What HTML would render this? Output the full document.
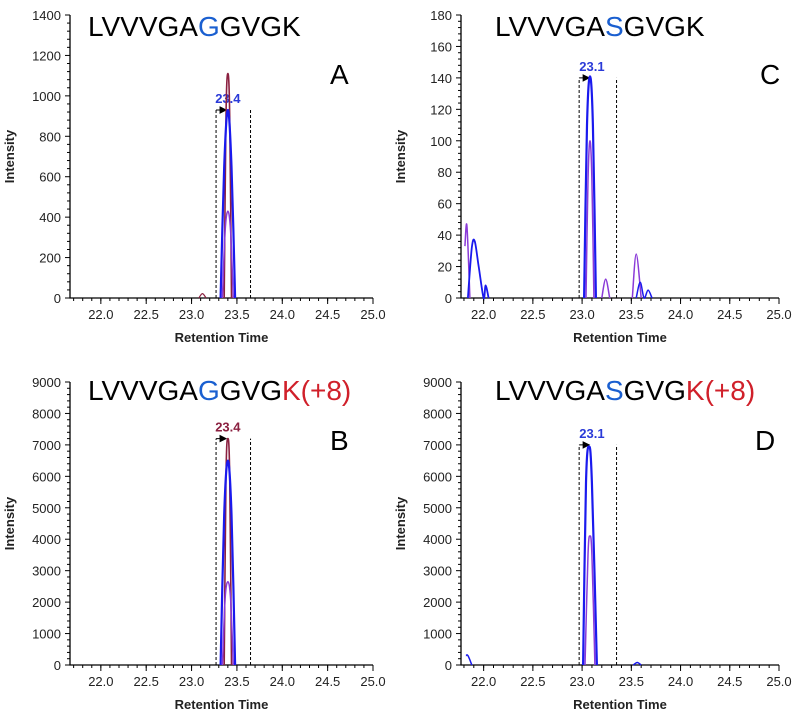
<!DOCTYPE html>
<html><head><meta charset="utf-8"><style>
body{margin:0;background:#fff;width:793px;height:711px;overflow:hidden}
svg{display:block}
.t{font-family:"Liberation Sans",sans-serif;font-size:13px;fill:#222}
.ti{font-family:"Liberation Sans",sans-serif;font-size:28px;fill:#000}
</style></head><body>
<svg id="c" width="793" height="711"></svg>
<script>
const xTicks=["22.0","22.5","23.0","23.5","24.0","24.5","25.0"];
const yTicksA=[0,200,400,600,800,1000,1200,1400];
const yTicksC=[0,20,40,60,80,100,120,140,160,180];
const yTicksB=[0,1000,2000,3000,4000,5000,6000,7000,8000,9000];
// traces: [time, intensity] points
const aBlue=[[23.32,0],[23.36,650],[23.40,930],[23.44,650],[23.48,0]];
const aPurple=[[23.34,0],[23.37,330],[23.40,430],[23.43,330],[23.46,0]];
const aMaroon=[[23.36,0],[23.38,900],[23.40,1110],[23.42,900],[23.44,0]];
const aSmall=[[23.08,0],[23.12,22],[23.16,0]];
const cBlue=[[23.02,0],[23.05,110],[23.08,141],[23.11,110],[23.14,0]];
const cPurple=[[23.04,0],[23.06,75],[23.08,100],[23.10,75],[23.12,0]];
const cBlueL=[[21.84,0],[21.88,32],[21.91,36],[21.95,20],[22.0,0],[22.02,8],[22.05,0]];
const cPurpleL=[[21.81,33],[21.83,46],[21.86,0]];
const cBumps=[[23.2,0],[23.24,12],[23.28,0]];
const cPurpleR=[[23.51,0],[23.55,28],[23.6,0]];
const cBlueR=[[23.55,0],[23.59,10],[23.63,0],[23.67,5],[23.71,0]];
const bBlue=[[23.32,0],[23.36,4800],[23.40,6500],[23.44,4800],[23.48,0]];
const bPurple=[[23.34,0],[23.37,2100],[23.40,2650],[23.43,2100],[23.46,0]];
const bMaroon=[[23.36,0],[23.38,6000],[23.40,7200],[23.42,6000],[23.44,0]];
const dBlue=[[23.01,0],[23.04,5800],[23.07,6950],[23.10,5800],[23.15,0]];
const dPurple=[[23.03,0],[23.06,3500],[23.08,4100],[23.10,3500],[23.13,0]];
const dBlueL=[[21.82,300],[21.84,300],[21.88,0]];
const dBlueR=[[23.52,0],[23.56,80],[23.6,0]];

const svg=document.getElementById('c');
const NS='http://www.w3.org/2000/svg';
function mk(tag,attrs,parent){const e=document.createElementNS(NS,tag);for(const k in attrs)e.setAttribute(k,attrs[k]);(parent||svg).appendChild(e);return e;}
function smooth(P){let d='M'+P[0][0].toFixed(1)+','+P[0][1].toFixed(1);
  for(let i=0;i<P.length-1;i++){const p0=P[i-1]||P[i],p1=P[i],p2=P[i+1],p3=P[i+2]||p2;
    const c1=[p1[0]+(p2[0]-p0[0])/6,p1[1]+(p2[1]-p0[1])/6],c2=[p2[0]-(p3[0]-p1[0])/6,p2[1]-(p3[1]-p1[1])/6];
    d+=`C${c1[0].toFixed(1)},${c1[1].toFixed(1)} ${c2[0].toFixed(1)},${c2[1].toFixed(1)} ${p2[0].toFixed(1)},${p2[1].toFixed(1)}`;}
  return d;}

function panel(p){
  const g=mk('g',{});
  
  
  const xs=v=>p.x0+(v-p.t0)/(p.t1-p.t0)*(p.x1-p.x0);
  const ys=v=>p.y0-v/p.ymax*(p.y0-p.y1);
  const ax=mk('path',{d:`M${p.x0},${p.y1}V${p.y0}H${p.x1}`,stroke:'#000',fill:'none','stroke-width':1.3},g);
  
  
  for(let t=21.7;t<=25.001;t+=0.1){const x=xs(t);if(x<p.x0)continue;mk('line',{x1:x,x2:x,y1:p.y0,y2:p.y0+3,stroke:'#000'},g);}
  xTicks.forEach(s=>{const x=xs(+s);mk('line',{x1:x,x2:x,y1:p.y0,y2:p.y0+6,stroke:'#000'},g);
    const tx=mk('text',{x:x,y:p.y0+21,'text-anchor':'middle',class:'t'},g);tx.textContent=s;
    
    });
  const n=p.yt.length-1;
  p.yt.forEach((v,i)=>{const y=ys(v);mk('line',{x1:p.x0-5,x2:p.x0,y1:y,y2:y,stroke:'#000'},g);
    if(i<n){for(let k=1;k<5;k++){const yy=ys(v+(p.yt[1]-p.yt[0])*k/5);mk('line',{x1:p.x0-3,x2:p.x0,y1:yy,y2:yy,stroke:'#000'},g);}}
    const tx=mk('text',{x:p.x0-9,y:y+5,'text-anchor':'end',class:'t'},g);tx.textContent=v;
    
    });
  const xt=mk('text',{x:(p.x0+p.x1)/2,y:p.y0+44,'text-anchor':'middle',class:'t','font-weight':'bold','font-size':'12'},g);
  xt.textContent='Retention Time';
  
  
  const yt=mk('text',{transform:`translate(${p.x0-56},${(p.y0+p.y1)/2}) rotate(-90)`,'text-anchor':'middle',class:'t','font-weight':'bold','font-size':'12'},g);
  yt.textContent='Intensity';
  
  
  p.bounds.forEach(b=>{const l=mk('line',{x1:xs(b),x2:xs(b),y1:p.y0,y2:ys(p.btop),stroke:'#000','stroke-dasharray':'3,2'},g);
    
    });
  const bx=xs(p.bounds[0]),by=ys(p.btop);
  mk('path',{d:`M${bx},${by}H${bx+10}M${bx+4},${by-3}L${bx+10},${by}L${bx+4},${by+3}Z`,stroke:'#000',fill:'#000'},g);
  const lb=mk('text',{x:xs(p.lx),y:by-7,'text-anchor':'middle',class:'t','font-size':'11','font-weight':'bold'},g);
  lb.textContent=p.label;lb.style.fill=p.lcol;
  
  
  p.traces.forEach(([pts,col,w])=>{
    const d=smooth(pts.map(q=>[xs(q[0]),ys(q[1])]));
    const pa=mk('path',{d:d,stroke:col,fill:'none','stroke-width':w,'stroke-linejoin':'round'},g);
    
    
  });
  const tt=mk('text',{x:p.tx,y:p.ty,class:'ti'},g);
  
  
  p.title.forEach(([s,c])=>{const ts=mk('tspan',{fill:c},tt);ts.textContent=s;});
  const L=mk('text',{x:p.Lx,y:p.Ly,class:'ti','font-size':'32'},g);L.textContent=p.id;
  
  
}
const M='#8b2040',B='#1a1aee',P='#8a3ad8';
panel({id:'A',x0:70,x1:373,y0:298,y1:15,t0:21.66,t1:25,ymax:1400,yt:yTicksA,bounds:[23.27,23.65],btop:930,lx:23.4,label:'23.4',lcol:'#2a3ad8',
  traces:[[aSmall,M,1.2],[aMaroon,M,1.6],[aBlue,B,2.2],[aPurple,P,1.5]],title:[['LVVVGA','#000'],['G','#1a5fd0'],['GVGK','#000']],tx:88,ty:36,Lx:330,Ly:84});
panel({id:'C',x0:461,x1:779,y0:298,y1:15,t0:21.77,t1:25,ymax:180,yt:yTicksC,bounds:[22.97,23.35],btop:140,lx:23.1,label:'23.1',lcol:'#2a3ad8',
  traces:[[cPurpleL,P,1.5],[cBlueL,B,1.8],[cBumps,P,1.5],[cPurpleR,P,1.5],[cBlueR,B,1.5],[cPurple,P,1.5],[cBlue,B,2.2]],title:[['LVVVGA','#000'],['S','#1a5fd0'],['GVGK','#000']],tx:495,ty:36,Lx:760,Ly:84});
panel({id:'B',x0:70,x1:373,y0:665,y1:382,t0:21.66,t1:25,ymax:9000,yt:yTicksB,bounds:[23.27,23.65],btop:7200,lx:23.4,label:'23.4',lcol:M,
  traces:[[bMaroon,M,1.6],[bBlue,B,2.2],[bPurple,P,1.5]],title:[['LVVVGA','#000'],['G','#1a5fd0'],['GVG','#000'],['K(+8)','#d0202a']],tx:88,ty:400,Lx:330,Ly:450});
panel({id:'D',x0:461,x1:779,y0:665,y1:382,t0:21.77,t1:25,ymax:9000,yt:yTicksB,bounds:[22.97,23.35],btop:7000,lx:23.1,label:'23.1',lcol:'#2a3ad8',
  traces:[[dBlueL,B,1.5],[dBlueR,B,1.5],[dPurple,P,1.5],[dBlue,B,2.2]],title:[['LVVVGA','#000'],['S','#1a5fd0'],['GVG','#000'],['K(+8)','#d0202a']],tx:495,ty:400,Lx:755,Ly:450});
</script>
</body></html>
